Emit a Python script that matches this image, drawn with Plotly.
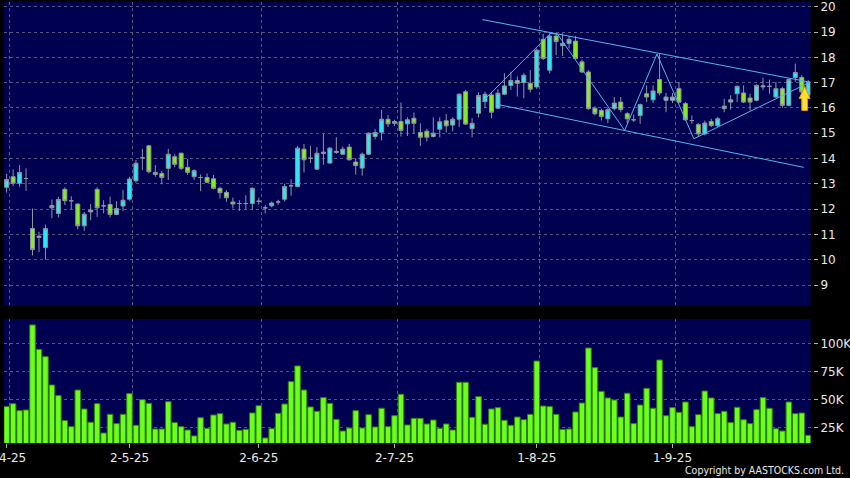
import plotly.graph_objects as go

# ---------------- data ----------------
open_ = [12.86, 13.28, 13.02, 13.21, 11.23, 10.88, 10.48, 12.05, 11.83, 12.78,
         12.33, 12.20, 11.34, 11.89, 12.78, 12.13, 12.18, 11.79, 12.12, 12.39,
         13.12, 14.03, 14.50, 13.45, 13.41, 13.61, 14.07, 14.21, 13.65, 13.28,
         13.25, 13.25, 13.20, 12.82, 12.66, 12.28, 12.22, 12.22, 12.22, 12.31,
         12.05, 12.13, 12.28, 12.39, 12.92, 12.89, 14.37, 14.01, 13.58, 14.20,
         13.82, 14.24, 14.17, 14.45, 13.86, 13.62, 14.17, 14.87, 15.04, 15.55,
         15.46, 15.46, 15.37, 15.59, 15.03, 15.08, 14.87, 15.16, 15.49, 15.32,
         15.55, 16.64, 15.18, 15.79, 16.25, 16.51, 15.99, 16.54, 16.89, 17.08,
         17.00, 16.97, 16.83, 18.71, 17.49, 18.84, 18.46, 18.55, 18.64, 17.82,
         17.42, 15.99, 15.90, 15.57, 15.97, 16.23, 15.77, 15.53, 15.70, 16.56,
         16.32, 17.12, 16.30, 16.30, 16.76, 16.17, 15.50, 15.34, 14.97, 15.46,
         15.30, 15.97, 16.23, 16.56, 16.59, 16.39, 16.30, 16.83, 16.85, 16.43,
         16.76, 16.10, 17.20, 17.20, 16.50]
high = [13.39, 13.57, 13.74, 13.61, 12.02, 11.10, 11.39, 12.38, 12.49, 12.86,
        12.51, 12.22, 11.89, 12.20, 12.86, 12.35, 12.49, 12.31, 12.75, 13.28,
        13.94, 14.38, 14.54, 13.74, 13.50, 14.38, 14.17, 14.23, 13.98, 13.57,
        13.37, 13.41, 13.35, 12.88, 12.75, 12.45, 12.35, 12.55, 12.86, 12.45,
        12.16, 12.30, 12.37, 13.00, 13.18, 14.50, 14.58, 14.50, 14.45, 14.97,
        14.45, 14.84, 14.47, 14.58, 14.01, 14.24, 15.03, 15.16, 15.92, 15.72,
        15.53, 16.21, 15.63, 15.82, 15.39, 15.16, 15.63, 15.63, 15.76, 15.63,
        16.58, 16.71, 15.59, 16.61, 16.64, 16.58, 16.74, 17.37, 17.43, 17.24,
        17.37, 17.50, 18.35, 18.92, 18.95, 18.97, 18.95, 18.84, 18.84, 17.91,
        17.49, 16.06, 15.97, 16.01, 16.43, 16.43, 15.83, 15.73, 16.17, 16.89,
        16.89, 18.13, 16.59, 16.59, 17.03, 16.23, 15.70, 15.40, 15.50, 15.57,
        15.64, 16.36, 16.50, 16.89, 16.89, 16.56, 16.93, 17.20, 17.12, 17.03,
        16.83, 17.16, 17.75, 17.29, 17.10]
low = [12.65, 12.91, 12.88, 12.72, 10.17, 10.30, 10.00, 11.64, 11.67, 12.16,
       11.98, 11.20, 11.14, 11.56, 11.69, 11.83, 11.67, 11.76, 11.92, 12.33,
       13.04, 13.54, 13.41, 13.28, 12.98, 13.15, 13.65, 13.54, 13.35, 13.15,
       12.71, 13.02, 12.78, 12.42, 12.29, 12.02, 11.93, 11.98, 11.98, 12.18,
       11.83, 12.07, 12.17, 12.30, 12.53, 12.87, 13.45, 13.82, 13.55, 13.75,
       13.79, 14.18, 14.14, 13.92, 13.36, 13.32, 14.14, 14.76, 14.71, 15.24,
       15.29, 14.87, 14.89, 14.97, 14.50, 14.67, 14.83, 14.84, 15.03, 15.07,
       15.24, 15.32, 14.84, 15.62, 15.99, 15.59, 15.95, 16.51, 16.71, 16.45,
       16.38, 16.61, 16.75, 17.89, 17.36, 18.09, 18.05, 18.35, 17.91, 17.38,
       15.93, 15.70, 15.50, 15.40, 15.90, 15.83, 15.40, 15.44, 15.37, 16.23,
       16.19, 16.50, 15.83, 16.19, 16.17, 15.50, 15.37, 14.85, 14.91, 15.24,
       15.24, 15.83, 15.93, 16.23, 16.19, 15.90, 16.26, 16.70, 16.56, 16.40,
       16.01, 16.06, 17.03, 16.59, 16.45]
close = [13.17, 13.02, 13.45, 13.21, 10.40, 10.93, 11.23, 12.14, 12.38, 12.33,
         12.33, 11.34, 11.80, 11.96, 12.05, 12.13, 11.79, 12.02, 12.35, 13.19,
         13.81, 14.03, 13.48, 13.37, 13.25, 14.17, 13.77, 13.61, 13.45, 13.52,
         13.25, 13.06, 12.82, 12.65, 12.45, 12.20, 12.22, 12.22, 12.82, 12.31,
         12.05, 12.24, 12.28, 12.89, 12.92, 14.41, 13.95, 14.01, 14.21, 14.25,
         14.41, 14.28, 14.37, 13.95, 13.72, 14.17, 15.00, 15.03, 15.55, 15.37,
         15.39, 15.11, 15.53, 15.39, 14.84, 14.84, 15.00, 15.45, 15.29, 15.55,
         16.54, 15.36, 15.39, 16.49, 16.54, 15.83, 16.58, 16.87, 17.08, 16.97,
         17.29, 16.74, 18.28, 17.95, 18.84, 18.62, 18.55, 18.71, 17.95, 17.42,
         15.97, 15.77, 15.66, 15.93, 16.19, 15.93, 15.57, 15.53, 16.13, 16.43,
         16.67, 16.59, 16.43, 16.43, 16.23, 15.53, 15.50, 14.97, 15.40, 15.30,
         15.57, 16.07, 16.32, 16.85, 16.23, 16.23, 16.89, 16.87, 16.85, 16.76,
         16.10, 17.12, 17.40, 16.63, 17.03]
volume_k = [43.5, 46.1, 39.9, 40.5, 116.4, 94.6, 88.1, 62.8, 53.3, 31.0,
            25.6, 58.3, 41.4, 29.5, 46.1, 19.9, 36.6, 28.3, 36.6, 55.1,
            26.8, 49.7, 46.4, 23.5, 23.5, 47.9, 29.2, 25.6, 22.6, 17.3,
            33.6, 24.1, 36.0, 37.2, 28.0, 29.5, 22.3, 23.2, 37.8, 44.3,
            15.5, 23.8, 37.5, 45.8, 65.8, 79.8, 58.3, 43.2, 39.3, 51.5,
            46.4, 32.1, 21.7, 24.4, 39.9, 24.4, 36.3, 25.3, 42.0, 25.6,
            35.4, 54.5, 27.1, 33.0, 33.0, 28.0, 31.5, 24.1, 28.0, 22.6,
            65.2, 65.2, 33.9, 52.4, 27.7, 41.4, 42.6, 31.3, 26.8, 34.2,
            31.8, 36.6, 84.2, 44.0, 43.5, 36.6, 23.2, 23.5, 38.7, 46.7,
            95.8, 78.3, 57.1, 51.2, 49.4, 34.2, 55.4, 28.3, 44.9, 59.8,
            42.0, 85.1, 35.4, 42.6, 38.4, 47.6, 25.6, 36.3, 57.4, 51.2,
            37.2, 39.3, 29.2, 42.9, 31.8, 28.3, 40.8, 51.5, 42.0, 23.8,
            21.7, 47.6, 37.2, 37.8, 17.9]

# x-axis date labels (trading-day index of each label)
tick_idx = [0, 19, 39, 60, 82, 103]
tick_labels = ["1-4-25", "2-5-25", "2-6-25", "2-7-25", "1-8-25", "1-9-25"]
price_ticks = list(range(9, 21))
vol_ticks_k = [25, 50, 75, 100]
vol_tick_labels = ["25K", "50K", "75K", "100K"]

# drawn trend lines (index, price)
upper_x = [73.6, 123.8]
upper_y = [19.49, 17.04]
lower_x = [75.9, 123.3]
lower_y = [16.14, 13.65]
zig_x = [73.6, 84.1, 85.2, 95.6, 100.6, 106.3, 124.3]
zig_y = [16.25, 18.94, 18.92, 15.11, 18.13, 14.78, 17.02]

# ---------------- figure ----------------
x = list(range(len(close)))
BG = "#000050"
GRID = "#55557f"
TXT = "#e8e8e8"
LINE = "#56b4f0"

fig = go.Figure()
fig.add_trace(go.Candlestick(
    x=x, open=open_, high=high, low=low, close=close,
    increasing=dict(fillcolor="#2ee6f2", line=dict(color="#8c96a0", width=1)),
    decreasing=dict(fillcolor="#86ee1e", line=dict(color="#8c96a0", width=1)),
    whiskerwidth=0, xaxis="x", yaxis="y", showlegend=False, hoverinfo="skip"))

for lx, ly in [(upper_x, upper_y), (lower_x, lower_y), (zig_x, zig_y)]:
    fig.add_trace(go.Scatter(x=lx, y=ly, mode="lines",
                             line=dict(color=LINE, width=1),
                             xaxis="x", yaxis="y", showlegend=False, hoverinfo="skip"))

fig.add_trace(go.Bar(
    x=x, y=volume_k, marker=dict(color="#6cff1c", line=dict(color="#2f7d08", width=1)),
    xaxis="x2", yaxis="y2", showlegend=False, hoverinfo="skip"))

# signal arrow next to the last bar
n = len(close)
ax0 = n - 1 - 0.55
ay_tip = close[-2] + 0.22
head_w = 0.85
shaft_w = 0.45
head_h = 0.48
shaft_h = 0.47
path = (f"M {ax0} {ay_tip} L {ax0 + head_w} {ay_tip - head_h} L {ax0 + shaft_w} {ay_tip - head_h} "
        f"L {ax0 + shaft_w} {ay_tip - head_h - shaft_h} L {ax0 - shaft_w} {ay_tip - head_h - shaft_h} "
        f"L {ax0 - shaft_w} {ay_tip - head_h} L {ax0 - head_w} {ay_tip - head_h} Z")
fig.add_shape(type="path", path=path, xref="x", yref="y",
              fillcolor="#ffdc30", line=dict(color="#d89a00", width=1))

W, H = 850, 478
x_dom = [4 / W, 810.5 / W]
xr = [-0.41, 124.35]
p_top, p_bot = 2, 306
v_top, v_bot = 319, 443
ppu = 25.3
prange = [20 - (p_bot - 6.7) / ppu, 20 + (6.7 - p_top) / ppu]
vpk = 1.12
vrange = [25 - (v_bot - 427.3) / vpk, 100 + (343.3 - v_top) / vpk]

grid_vals = [t + 0.45 for t in tick_idx]
common_x = dict(range=xr, domain=x_dom, showline=False, zeroline=False,
                showgrid=False, ticklabeloverflow="allow",
                minor=dict(tickmode="array", tickvals=grid_vals, showgrid=True,
                           gridcolor=GRID, griddash="3px,3px", gridwidth=1, ticks=""))
common_y = dict(side="right", anchor="free", position=813 / W, ticks="outside", ticklen=4,
                tickcolor="#b0b0b0", showline=False, zeroline=False,
                showgrid=True, gridcolor=GRID, griddash="3px,3px", gridwidth=1,
                ticklabeloverflow="allow", tickfont=dict(size=12, color=TXT))

fig.update_layout(
    width=W, height=H, margin=dict(l=0, r=0, t=0, b=0, autoexpand=False),
    paper_bgcolor="black", plot_bgcolor=BG,
    font=dict(family="DejaVu Sans", size=12, color=TXT),
    boxgap=0.12, bargap=0.14,
    xaxis=dict(**common_x, anchor="y", showticklabels=False, rangeslider=dict(visible=False)),
    xaxis2=dict(**common_x, anchor="y2", tickmode="array", tickvals=tick_idx,
                ticktext=tick_labels, ticks="outside", ticklen=4, tickcolor="#b0b0b0",
                tickfont=dict(size=12, color=TXT)),
    yaxis=dict(**common_y, domain=[1 - p_bot / H, 1 - p_top / H], range=prange,
               tickmode="array", tickvals=price_ticks,
               ticktext=[str(t) for t in price_ticks]),
    yaxis2=dict(**common_y, domain=[1 - v_bot / H, 1 - v_top / H], range=vrange,
                tickmode="array", tickvals=vol_ticks_k, ticktext=vol_tick_labels),
)

fig.add_annotation(text="Copyright by AASTOCKS.com Ltd.", xref="paper", yref="paper",
                   x=846 / W, y=1 - 470 / H, xanchor="right", yanchor="middle",
                   showarrow=False,
                   font=dict(family="DejaVu Sans Condensed, DejaVu Sans", size=10.5, color=TXT))

fig.write_html("out.html", config={"displayModeBar": False},
               post_script="document.body.style.margin='0';document.body.style.background='black';")
